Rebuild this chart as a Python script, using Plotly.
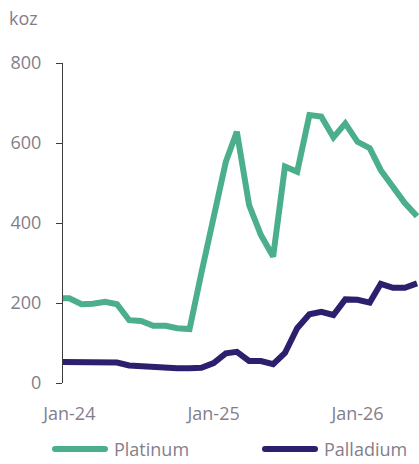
import plotly.graph_objects as go
import pandas as pd

# monthly points, Dec-23 .. Jun-26 (Dec-23 sits just left of the axis and is clipped)
months = pd.date_range("2023-12-01", "2026-06-01", freq="MS")

platinum = [212, 212, 197, 198, 203, 197, 157, 155, 143, 143, 137, 135, 275,
            415, 553, 628, 445, 370, 316, 541, 528, 670, 666, 614, 649,
            603, 587, 532, 491, 450, 417]
palladium = [53, 53, 52, 52, 52, 51, 44, 42, 41, 37, 37, 37, 38,
             50, 74, 78, 55, 55, 47, 75, 137, 172, 178, 170, 209,
             208, 201, 248, 238, 238, 249]

tick_dates = ["2024-01-01", "2025-01-01", "2026-01-01"]
tick_text = ["Jan-24", "Jan-25", "Jan-26"]
y_ticks = [0, 200, 400, 600, 800]

PLAT = "#4caf8b"
PALL = "#2b1f6e"
GREY = "#847e8a"
FONT = "Open Sans"

FW, FH = 419, 464
L, W, T, H = 63, 356, 63, 320

def px(x): return (x - L) / W
def py(y): return (T + H - y) / H

fig = go.Figure()
fig.add_trace(go.Scatter(x=months, y=platinum, mode="lines", name="Platinum",
                         line=dict(color=PLAT, width=6), showlegend=False))
fig.add_trace(go.Scatter(x=months, y=palladium, mode="lines", name="Palladium",
                         line=dict(color=PALL, width=6), showlegend=False))

# hand-made legend (long line samples with round ends, like the original)
for (x0, x1, tx, label, col) in [(55, 105, 112, "Platinum", PLAT),
                                 (265, 315, 322, "Palladium", PALL)]:
    fig.add_shape(type="line", xref="paper", yref="paper",
                  x0=px(x0), x1=px(x1), y0=py(449), y1=py(449),
                  line=dict(color=col, width=6))
    for xe in (x0, x1):
        fig.add_shape(type="circle", xref="paper", yref="paper",
                      xsizemode="pixel", ysizemode="pixel",
                      xanchor=px(xe), yanchor=py(449),
                      x0=-3, x1=3, y0=-3, y1=3,
                      fillcolor=col, line=dict(width=0))
    fig.add_annotation(xref="paper", yref="paper", x=px(tx), y=py(449),
                       text=label, showarrow=False, xanchor="left", yanchor="middle",
                       font=dict(family=FONT, size=18, color=GREY))

fig.add_annotation(xref="paper", yref="paper", x=px(7), y=py(18), text="koz",
                   showarrow=False, xanchor="left", yanchor="middle",
                   font=dict(family=FONT, size=18, color=GREY))

fig.update_layout(
    width=FW, height=FH,
    margin=dict(l=L, r=0, t=T, b=FH - T - H),
    plot_bgcolor="white", paper_bgcolor="white",
    font=dict(family=FONT, size=18, color=GREY),
    xaxis=dict(range=["2023-12-16", "2026-06-06"], tickvals=tick_dates, ticktext=tick_text,
               showgrid=False, zeroline=False, showline=False, ticks="",
               ticklabelstandoff=18),
    yaxis=dict(range=[0, 800], tickvals=y_ticks, showgrid=False, zeroline=False,
               showline=True, linecolor="#3c3c3c", linewidth=1,
               ticks="outside", ticklen=6, tickcolor="#3c3c3c",
               ticklabelstandoff=11),
)

# drop the default 8px page margin so the figure fills the window
fig.write_html("out.html", config={"displayModeBar": False},
               post_script="document.body.style.margin='0';")
